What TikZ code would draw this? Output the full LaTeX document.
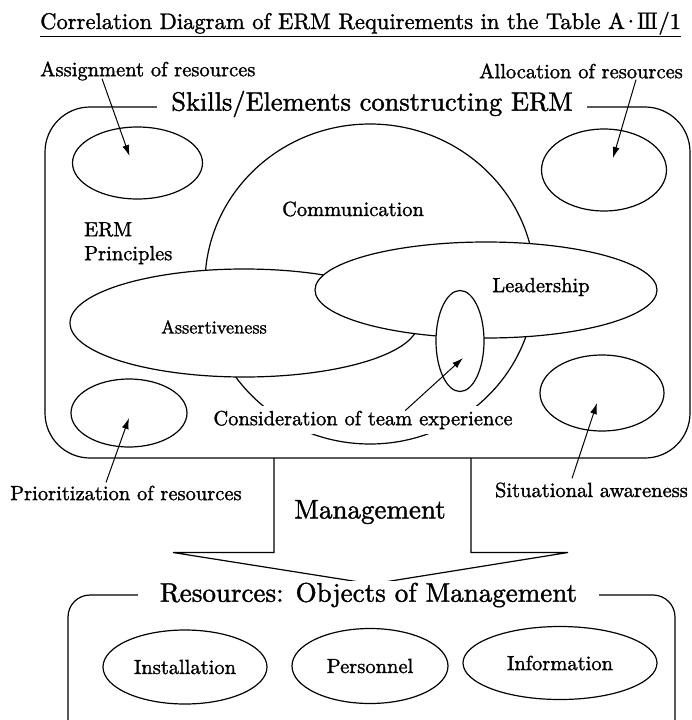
\documentclass[tikz,border=0pt]{standalone}
\usepackage{fontspec}
\setmainfont{lmroman10-regular.otf}[FakeBold=1.4]
\newfontfamily\numforms{DejaVu Serif}
\usetikzlibrary{shapes.geometric, arrows.meta, calc}

\begin{document}
\begin{tikzpicture}[x=1pt, y=-1pt,
  outline/.style={line width=1.2pt},
  frame/.style={draw, line width=1.2pt, rounded corners=45pt},
  oval/.style={draw, ellipse, line width=1.2pt, inner sep=0pt},
  maskedoval/.style={oval, fill=white},
  lbl/.style={font=\fontsize{20.5}{24}\selectfont, inner sep=0pt},
  headline/.style={font=\fontsize{27}{32}\selectfont, fill=white, inner xsep=17pt, inner ysep=2pt},
  pointer/.style={draw, line width=1pt, -{Latex[length=11pt,width=7pt]}},
]
\useasboundingbox (0,0) rectangle (692,720);
\begin{scope}
\clip (0,0) rectangle (692,720);

% heading
\node[font=\fontsize{22.6}{26}\selectfont, inner sep=0pt, anchor=base west] (title) at (40,29)
  {\underline{Correlation Diagram of ERM Requirements in the Table A\kern-3pt·\kern-3pt{\numforms Ⅲ}/1}};

% ---------- skills / elements block ----------
\coordinate (upNW) at (45,107);
\coordinate (upSE) at (690,458);
\draw[frame] (upNW) rectangle (upSE);
\node[headline, font=\fontsize{26.4}{32}\selectfont, inner xsep=14pt] (skills) at (372,104) {Skills/Elements constructing ERM};

% corner ovals
\node[oval, minimum width=130pt, minimum height=72pt] (assignEll) at (137.5,163) {};
\node[oval, minimum width=125pt, minimum height=82pt] (allocEll) at (604,170) {};
\node[oval, minimum width=116pt, minimum height=68pt] (prioEll) at (129,413) {};
\node[oval, minimum width=124pt, minimum height=76pt] (situEll) at (602,393) {};

% overlapping skill sets
\node[oval, minimum width=330pt, minimum height=320pt] (commEll) at (370,284) {};
\node[maskedoval, minimum width=348pt, minimum height=108pt] (assertEll) at (244,323) {};
\node[maskedoval, minimum width=342pt, minimum height=96pt] (leadEll) at (486,290) {};
\node[maskedoval, minimum width=48pt, minimum height=101pt] (teamEll) at (460,341) {};

\node[lbl] (commText) at (353,209) {Communication};
\node[lbl, align=left, anchor=north west] (ermText) at (84,222) {ERM\\Principles};
\node[lbl, font=\fontsize{18.3}{22}\selectfont] (assertText) at (214,327) {Assertiveness};
\node[lbl] (leadText) at (541,287) {Leadership};
\node[lbl, fill=white, inner xsep=3pt, inner ysep=5pt] (teamText) at (363,420) {Consideration of team experience};

% outside labels
\node[lbl, anchor=west] (assignText) at (40,71) {Assignment of resources};
\node[lbl, anchor=east] (allocText) at (683,71) {Allocation of resources};
\node[lbl, anchor=west] (prioText) at (10,493) {Prioritization of resources};
\node[lbl, anchor=east] (situText) at (688,490) {Situational awareness};

% pointers
\draw[pointer] ($(assignText.south west)+(62,-2)$) -- ($(assignEll.center)+(-8,-7)$);
\draw[pointer] ($(allocText.south east)+(-47,1)$) -- ($(allocEll.center)+(9,-12)$);
\draw[pointer] ($(prioText.north west)+(96,-3)$) -- ($(prioEll.center)+(0,5)$);
\draw[pointer] ($(situText.north east)+(-116,-4)$) -- ($(situEll.center)+(-5,10)$);
\draw[pointer] ($(teamText.north west)+(195,5)$) -- ($(teamEll.center)+(3,17)$);

% ---------- management arrow ----------
\coordinate (stemL) at (274,458);
\coordinate (stemR) at (471,458);
\coordinate (headL) at (173,552.5);
\coordinate (headR) at (568,552.5);
\coordinate (headTip) at (372,584);
\draw[outline, line join=miter] (stemL) -- (stemL |- headL) -- (headL) -- (headTip)
  -- (headR) -- (stemR |- headR) -- (stemR);
\node[font=\fontsize{27}{32}\selectfont, inner sep=0pt] (mgmt) at (370,512) {Management};

% ---------- resources block ----------
\coordinate (lowNW) at (68,595);
\coordinate (lowSE) at (675,770);
\draw[frame, rounded corners=22pt] (lowNW) rectangle (lowSE);
\node[headline, inner xsep=22pt] (resources) at (368.5,595) {Resources: Objects of Management};

\node[oval, lbl, minimum width=164pt, minimum height=74pt] (inst) at (185,667) {Installation};
\node[oval, lbl, minimum width=156pt, minimum height=75pt] (pers) at (370,666) {Personnel};
\node[oval, lbl, minimum width=194pt, minimum height=73pt] (info) at (560,663) {Information};
\end{scope}
\end{tikzpicture}
\end{document}
